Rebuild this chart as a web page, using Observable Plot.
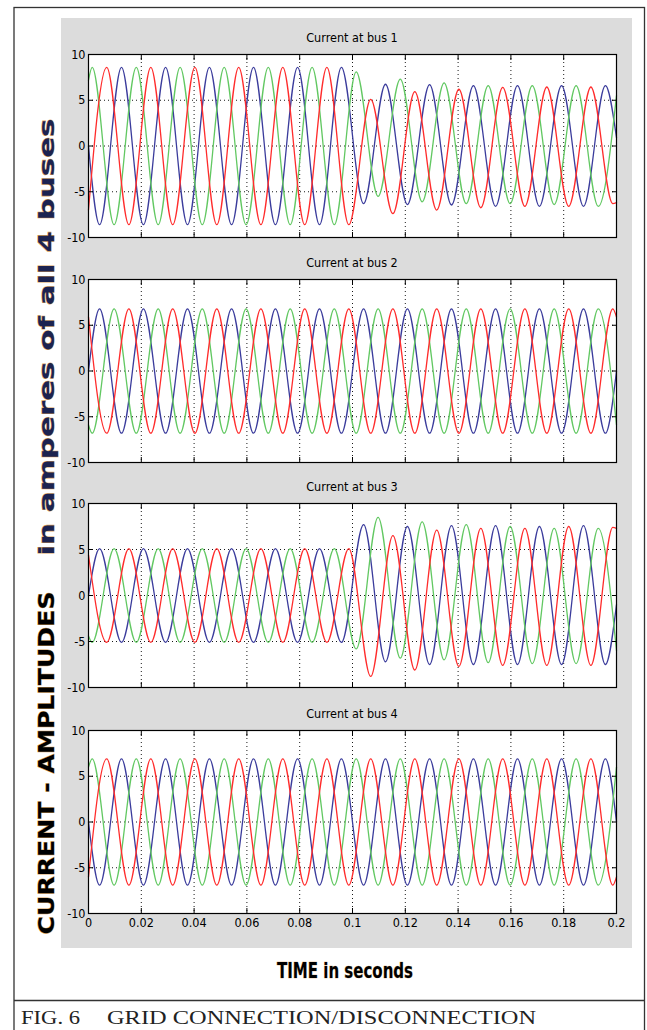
<!DOCTYPE html>
<html><head><meta charset="utf-8">
<script src="https://cdn.jsdelivr.net/npm/d3@7"></script>
<script src="https://cdn.jsdelivr.net/npm/@observablehq/plot@0.6"></script>
<style>
body{margin:0;background:#fff;}
#root{position:relative;width:647px;height:1030px;overflow:hidden;background:#fff;}
.abs{position:absolute;}
.ttl{position:absolute;font-family:"Liberation Sans Narrow","Arial Narrow","DejaVu Sans Condensed",sans-serif;font-size:12.5px;color:#000;text-align:center;width:528px;left:88px;line-height:14px;}
</style></head><body><div id="root"></div>
<script>
// ---------- data ----------
const panelTitles = ["Current at bus 1", "Current at bus 2", "Current at bus 3", "Current at bus 4"];
const phases = ["phase 1", "phase 2", "phase 3"];
const phaseColors = ["#3b3c9c", "#62c862", "#ff2c2c"];
// times (ms) of successive extrema of each phase (start 0 ms, end 200 ms added)
const peakTimesBlue  = [4.2, 12.5, 20.8, 29.2, 37.5, 45.8, 54.2, 62.5, 70.8, 79.2, 87.5, 95.8, 104.2, 112.5, 120.8, 129.2, 137.5, 145.8, 154.2, 162.5, 170.8, 179.2, 187.5, 195.8];
const peakTimesGreen = [1.4, 9.7, 18.1, 26.4, 34.7, 43.1, 51.4, 59.7, 68.1, 76.4, 84.7, 93.1, 101.4, 109.7, 118.1, 126.4, 134.7, 143.1, 151.4, 159.7, 168.1, 176.4, 184.7, 193.1];
const peakTimesRed   = [6.9, 15.3, 23.6, 31.9, 40.3, 48.6, 56.9, 65.3, 73.6, 81.9, 90.3, 98.6, 106.9, 115.3, 123.6, 131.9, 140.3, 148.6, 156.9, 165.3, 173.6, 181.9, 190.3, 198.6];
// values: [value at t=0, 24 extrema, value at t=0.2]
const bus1Blue  = [0, -8.6, 8.6, -8.6, 8.6, -8.6, 8.6, -8.6, 8.6, -8.6, 8.6, -8.6, 8.6, -6.3, 6.75, -6.4, 6.7, -6.45, 6.6, -6.6, 6.6, -6.6, 6.6, -6.6, 6.6, 0.9];
const bus1Green = [7.2, 8.6, -8.6, 8.6, -8.6, 8.6, -8.6, 8.6, -8.6, 8.6, -8.6, 8.6, -8.6, 8.1, -5.5, 7.3, -6.1, 6.9, -6.3, 6.6, -6.3, 6.6, -6.4, 6.6, -6.6, 5.5];
const bus1Red   = [-7.0, 8.6, -8.6, 8.6, -8.6, 8.6, -8.6, 8.6, -8.6, 8.6, -8.6, 8.6, -8.6, 5.1, -7.4, 5.95, -7.0, 6.2, -6.75, 6.4, -6.6, 6.45, -6.6, 6.45, -6.3, -6.2];
const bus2Blue  = [0, 6.8, -6.8, 6.8, -6.8, 6.8, -6.8, 6.8, -6.8, 6.8, -6.8, 6.8, -6.8, 6.8, -6.8, 6.8, -6.8, 6.8, -6.8, 6.8, -6.8, 6.8, -6.8, 6.8, -6.8, 0];
const bus2Green = [-5.9, -6.8, 6.8, -6.8, 6.8, -6.8, 6.8, -6.8, 6.8, -6.8, 6.8, -6.8, 6.8, -6.8, 6.8, -6.8, 6.8, -6.8, 6.8, -6.8, 6.8, -6.8, 6.8, -6.8, 6.8, -5.9];
const bus2Red   = [5.9, -6.8, 6.8, -6.8, 6.8, -6.8, 6.8, -6.8, 6.8, -6.8, 6.8, -6.8, 6.8, -6.8, 6.8, -6.8, 6.8, -6.8, 6.8, -6.8, 6.8, -6.8, 6.8, -6.8, 6.8, 5.9];
const bus3Blue  = [0, 5.1, -5.1, 5.1, -5.1, 5.1, -5.1, 5.1, -5.1, 5.1, -5.1, 5.1, -5.1, 7.7, -7.2, 7.5, -7.5, 7.6, -7.5, 7.6, -7.5, 7.5, -7.5, 7.6, -7.5, -1.0];
const bus3Green = [-4.4, -5.1, 5.1, -5.1, 5.1, -5.1, 5.1, -5.1, 5.1, -5.1, 5.1, -5.1, 5.1, -5.8, 8.5, -6.8, 8.0, -7.0, 7.7, -7.3, 7.5, -7.4, 7.3, -7.4, 7.3, -6.0];
const bus3Red   = [4.4, -5.1, 5.1, -5.1, 5.1, -5.1, 5.1, -5.1, 5.1, -5.1, 5.1, -5.1, 5.1, -8.8, 6.5, -8.1, 7.1, -7.7, 7.3, -7.6, 7.3, -7.6, 7.5, -7.6, 7.4, 7.3];
const bus4Blue  = [0, -6.9, 6.9, -6.9, 6.9, -6.9, 6.9, -6.9, 6.9, -6.9, 6.9, -6.9, 6.9, -6.9, 6.9, -6.9, 6.9, -6.9, 6.9, -6.9, 6.9, -6.9, 6.9, -6.9, 6.9, 0];
const bus4Green = [6.0, 6.9, -6.9, 6.9, -6.9, 6.9, -6.9, 6.9, -6.9, 6.9, -6.9, 6.9, -6.9, 6.9, -6.9, 6.9, -6.9, 6.9, -6.9, 6.9, -6.9, 6.9, -6.9, 6.9, -6.9, 6.0];
const bus4Red   = [-6.0, 6.9, -6.9, 6.9, -6.9, 6.9, -6.9, 6.9, -6.9, 6.9, -6.9, 6.9, -6.9, 6.9, -6.9, 6.9, -6.9, 6.9, -6.9, 6.9, -6.9, 6.9, -6.9, 6.9, -6.9, -6.0];
const xTicks = [0, 0.02, 0.04, 0.06, 0.08, 0.1, 0.12, 0.14, 0.16, 0.18, 0.2];
const xGridLines = [0.02, 0.04, 0.06, 0.08, 0.1, 0.12, 0.14, 0.16, 0.18];
const yTicks = [-10, -5, 0, 5, 10];
const yGridLines = [-5, 0, 5];
const yLabelA = "CURRENT - AMPLITUDES";
const yLabelB = "in amperes of all 4 buses";
const xLabel = "TIME in seconds";
const captionA = "FIG. 6";
const captionB = "GRID CONNECTION/DISCONNECTION";

// ---------- build table ----------
const seriesByBus = [
  [bus1Blue, bus1Green, bus1Red],
  [bus2Blue, bus2Green, bus2Red],
  [bus3Blue, bus3Green, bus3Red],
  [bus4Blue, bus4Green, bus4Red]
];
const timesByPhase = [peakTimesBlue, peakTimesGreen, peakTimesRed];
const rows = [];
seriesByBus.forEach((series, b) => {
  series.forEach((vals, p) => {
    const ts = [0, ...timesByPhase[p], 200];
    vals.forEach((v, i) => rows.push({bus: b, phase: phases[p], t: ts[i] / 1000, v}));
  });
});

// ---------- layout ----------
const root = document.getElementById("root");
const NARROW = '"Liberation Sans Narrow","Arial Narrow","DejaVu Sans Condensed",sans-serif';
const gray = document.createElement("div");
gray.className = "abs";
Object.assign(gray.style, {left: "61px", top: "18px", width: "571px", height: "930px", background: "#dcdcdc"});
root.appendChild(gray);

const panelTops = [54, 279, 503, 730];
const panelBottoms = [237, 462, 687, 913];
const fmtX = d => String(+d.toFixed(2));

panelTitles.forEach((title, i) => {
  const showX = i === 3;
  const mt = 8, mb = showX ? 30 : 8;
  const h = panelBottoms[i] - panelTops[i];
  const chart = Plot.plot({
    width: 571,
    height: h + mt + mb,
    marginLeft: 27, marginRight: 16, marginTop: mt, marginBottom: mb,
    style: {background: "transparent", fontFamily: NARROW, fontSize: "12.5px", color: "black", overflow: "visible"},
    x: {domain: [0, 0.2]},
    y: {domain: [-10, 10]},
    color: {type: "ordinal", domain: phases, range: phaseColors},
    marks: [
      Plot.frame({fill: "white", stroke: null}),
      Plot.gridX(xGridLines, {stroke: "black", strokeOpacity: 0.9, strokeDasharray: "1,3"}),
      Plot.gridY(yGridLines, {stroke: "black", strokeOpacity: 0.9, strokeDasharray: "1,3"}),
      Plot.line(rows.filter(d => d.bus === i), {x: "t", y: "v", z: "phase", stroke: "phase", curve: "monotone-x", strokeWidth: 1.3}),
      Plot.axisX(xTicks, {anchor: "bottom", tickSize: -5, tickFormat: () => "", label: null}),
      Plot.axisX(xTicks, {anchor: "top", tickSize: -5, tickFormat: () => "", label: null}),
      Plot.axisY(yTicks, {anchor: "left", tickSize: -5, tickFormat: () => "", label: null}),
      Plot.axisY(yTicks, {anchor: "right", tickSize: -5, tickFormat: () => "", label: null}),
      Plot.axisY(yTicks, {anchor: "left", tickSize: 0, tickPadding: 3, tickFormat: d => String(d), label: null}),
      ...(showX ? [Plot.axisX(xTicks, {anchor: "bottom", tickSize: 0, tickPadding: 5, tickFormat: fmtX, label: null})] : []),
      Plot.frame({stroke: "black", strokeWidth: 1.2})
    ]
  });
  const wrap = document.createElement("div");
  wrap.className = "abs";
  Object.assign(wrap.style, {left: "61px", top: (panelTops[i] - mt) + "px", width: "571px"});
  wrap.appendChild(chart);
  root.appendChild(wrap);
  const t = document.createElement("div");
  t.className = "ttl";
  t.style.top = (panelTops[i] - 23) + "px";
  t.textContent = title;
  root.appendChild(t);
});

// ---------- overlay: border, axis titles, caption ----------
const NS = "http://www.w3.org/2000/svg";
const svg = document.createElementNS(NS, "svg");
svg.setAttribute("width", 647); svg.setAttribute("height", 1030);
svg.setAttribute("class", "abs");
svg.style.left = "0px"; svg.style.top = "0px"; svg.style.pointerEvents = "none";
root.appendChild(svg);
function el(tag, attrs, text) {
  const e = document.createElementNS(NS, tag);
  for (const k in attrs) e.setAttribute(k, attrs[k]);
  if (text != null) e.textContent = text;
  svg.appendChild(e);
  return e;
}
el("rect", {x: 14, y: 7.5, width: 630.5, height: 1040, fill: "none", stroke: "#333", "stroke-width": 1.3});
el("line", {x1: 14, x2: 644.5, y1: 1000.5, y2: 1000.5, stroke: "#333", "stroke-width": 1.3});
const boldFont = '"DejaVu Sans", Verdana, sans-serif';
el("text", {x: 0, y: 0, transform: "translate(54,763) rotate(-90)", "text-anchor": "middle", "font-family": boldFont, "font-weight": "bold", "font-size": 21, fill: "#000", stroke: "#d9a35a", "stroke-width": 0.8, "paint-order": "stroke", textLength: 343, lengthAdjust: "spacingAndGlyphs"}, yLabelA);
el("text", {x: 0, y: 0, transform: "translate(54,337) rotate(-90)", "text-anchor": "middle", "font-family": boldFont, "font-weight": "bold", "font-size": 21, fill: "#1c2350", stroke: "#d9a35a", "stroke-width": 0.8, "paint-order": "stroke", textLength: 437, lengthAdjust: "spacingAndGlyphs"}, yLabelB);
el("text", {x: 345, y: 978, "text-anchor": "middle", "font-family": NARROW, "font-weight": "bold", "font-size": 21, fill: "#000", stroke: "#d9a35a", "stroke-width": 0.5, "paint-order": "stroke", textLength: 136, lengthAdjust: "spacingAndGlyphs"}, xLabel);
el("text", {x: 21, y: 1024, "font-family": '"Liberation Serif","Times New Roman",serif', "font-size": 19.5, fill: "#222", textLength: 59, lengthAdjust: "spacingAndGlyphs"}, captionA);
el("text", {x: 107, y: 1024, "font-family": '"Liberation Serif","Times New Roman",serif', "font-size": 19.5, fill: "#222", textLength: 429, lengthAdjust: "spacingAndGlyphs"}, captionB);
</script></body></html>
